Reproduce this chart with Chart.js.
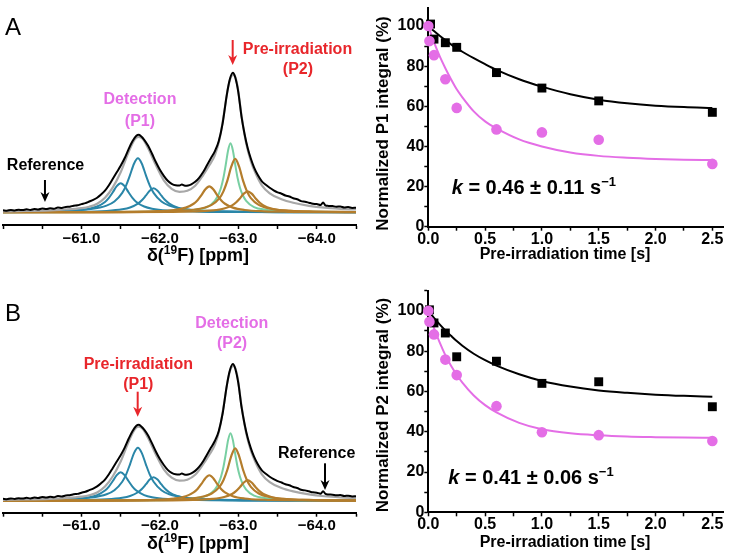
<!DOCTYPE html>
<html>
<head>
<meta charset="utf-8">
<script src="https://cdn.jsdelivr.net/npm/chart.js@4.4.1/dist/chart.umd.min.js"></script>
<style>
    body { margin: 0; background: #fff; overflow: hidden; }
    #wrap { position: relative; width: 730px; height: 556px; }
    canvas { position: absolute; }
</style>
</head>
<body>
<div id="wrap">
    <canvas id="specA" style="left:0;top:0" width="365" height="270"></canvas>
    <canvas id="kinA" style="left:365px;top:0" width="365" height="270"></canvas>
    <canvas id="specB" style="left:0;top:270px" width="365" height="286"></canvas>
    <canvas id="kinB" style="left:365px;top:270px" width="365" height="286"></canvas>
</div>

<script>
    // ---- 19F spectrum (same spectrum in A and B), intensity in arbitrary units ----
    const obsPpm = [-60.00, -60.05, -60.10, -60.15, -60.20, -60.25, -60.30, -60.35, -60.40, -60.45,
        -60.50, -60.55, -60.60, -60.65, -60.70, -60.75, -60.80, -60.85, -60.90, -60.95,
        -61.00, -61.05, -61.10, -61.15, -61.20, -61.25, -61.30, -61.35, -61.40, -61.45,
        -61.50, -61.55, -61.60, -61.65, -61.70, -61.73, -61.76, -61.80, -61.85, -61.90,
        -61.95, -62.00, -62.05, -62.10, -62.15, -62.20, -62.25, -62.28, -62.32, -62.36,
        -62.40, -62.45, -62.50, -62.55, -62.60, -62.65, -62.70, -62.75, -62.80, -62.85,
        -62.89, -62.93, -62.96, -63.00, -63.04, -63.08, -63.12, -63.16, -63.20, -63.25,
        -63.30, -63.35, -63.40, -63.45, -63.50, -63.55, -63.60, -63.65, -63.70, -63.75,
        -63.80, -63.85, -63.90, -63.95, -64.00, -64.05, -64.08, -64.11, -64.15, -64.20,
        -64.25, -64.30, -64.35, -64.40, -64.45, -64.50];
    const obsInt = [2.0, 1.6, 2.4, 1.9, 2.6, 2.2, 3.0, 2.4, 3.2, 2.8,
        3.8, 3.2, 4.0, 3.6, 4.8, 4.4, 5.4, 5.6, 6.6, 7.0,
        8.2, 9.2, 10.8, 12.4, 14.6, 17.8, 21.6, 27.0, 33.5, 40.0,
        46.5, 54.0, 63.0, 71.0, 76.5, 77.5, 76.0, 72.5, 66.5, 58.5,
        50.0, 42.5, 36.5, 31.5, 28.5, 27.0, 26.8, 27.8, 26.6, 26.8,
        28.0, 30.5, 34.5, 40.0, 47.0, 54.0, 61.0, 71.0, 89.0, 116.0,
        132.5, 139.5, 135.0, 120.0, 96.0, 78.0, 64.0, 53.5, 45.0, 37.0,
        31.0, 27.5, 24.5, 22.0, 20.0, 18.6, 16.8, 15.8, 14.0, 13.0,
        11.2, 10.6, 9.6, 8.6, 8.2, 7.2, 9.8, 7.0, 6.4, 6.2,
        5.6, 5.8, 4.8, 5.2, 4.4, 4.6];

    const sumPpm = [-60.0, -60.3, -60.6, -60.8, -61.0, -61.1, -61.2, -61.3, -61.4, -61.5,
        -61.6, -61.68, -61.73, -61.78, -61.85, -61.95, -62.05, -62.15, -62.25, -62.35,
        -62.45, -62.55, -62.63, -62.7, -62.76, -62.82, -62.87, -62.92, -62.95, -62.99,
        -63.04, -63.1, -63.16, -63.22, -63.3, -63.4, -63.55, -63.7, -63.9, -64.1,
        -64.3, -64.5];
    const sumInt = [0.9, 1.3, 2.0, 2.8, 4.2, 5.6, 8.5, 14.5, 25, 40,
        60, 73, 75.5, 73.5, 64, 47, 32, 23.5, 20.5, 21.5,
        26.5, 37, 47, 57, 73, 100, 125, 137, 137.5, 126,
        97, 69, 51, 39, 27, 19, 13, 9.5, 6.5, 4.6,
        3.5, 2.8];

    // P1 components (blue)
    const p1aPpm = [-60.0, -60.5, -60.9, -61.1, -61.2, -61.3, -61.35, -61.4, -61.45, -61.5,
        -61.55, -61.6, -61.65, -61.7, -61.8, -61.9, -62.1, -62.5, -63.5, -64.5];
    const p1aInt = [0.29, 0.64, 1.71, 3.58, 5.8, 10.4, 14.5, 20.1, 26.1, 29,
        26.1, 20.1, 14.5, 10.4, 5.8, 3.58, 1.71, 0.64, 0.16, 0.08];
    const p1bPpm = [-60.0, -60.72, -61.12, -61.32, -61.42, -61.52, -61.57, -61.62, -61.67, -61.72,
        -61.77, -61.82, -61.87, -61.92, -62.02, -62.12, -62.32, -62.72, -63.72, -64.5];
    const p1bInt = [0.41, 1.19, 3.18, 6.66, 10.8, 19.4, 27, 37.4, 48.6, 54,
        48.6, 37.4, 27, 19.4, 10.8, 6.66, 3.18, 1.19, 0.3, 0.16];
    const p1cPpm = [-60.0, -60.92, -61.32, -61.52, -61.62, -61.72, -61.77, -61.82, -61.87, -61.92,
        -61.97, -62.02, -62.07, -62.12, -62.22, -62.32, -62.52, -62.92, -63.92, -64.5];
    const p1cInt = [0.15, 0.53, 1.41, 2.96, 4.8, 8.64, 12, 16.6, 21.6, 24,
        21.6, 16.6, 12, 8.64, 4.8, 2.96, 1.41, 0.53, 0.13, 0.08];

    // P2 components (green, brown)
    const p2gPpm = [-60.0, -61.3, -61.9, -62.2, -62.45, -62.6, -62.7, -62.75, -62.78, -62.81,
        -62.84, -62.87, -62.9, -62.93, -62.96, -62.99, -63.02, -63.05, -63.1, -63.2,
        -63.35, -63.6, -63.9, -64.5];
    const p2gInt = [0.07, 0.22, 0.56, 1.13, 2.65, 5.2, 11.4, 18.3, 24.8, 34.5,
        47.8, 62.1, 69, 62.1, 47.8, 34.5, 24.8, 18.3, 11.4, 5.2,
        2.65, 1.13, 0.56, 0.22];
    const p2aPpm = [-60.0, -61.0, -61.63, -61.93, -62.18, -62.33, -62.43, -62.48, -62.53, -62.58,
        -62.63, -62.68, -62.73, -62.78, -62.83, -62.93, -63.08, -63.33, -63.63, -64.5];
    const p2aInt = [0.07, 0.19, 0.5, 1.0, 2.29, 4.65, 8.55, 12.1, 17.2, 23.06,
        26, 23.06, 17.2, 12.1, 8.55, 4.65, 2.29, 1.0, 0.5, 0.145];
    const p2bPpm = [-60.0, -60.96, -61.96, -62.26, -62.51, -62.66, -62.76, -62.81, -62.86, -62.91,
        -62.96, -63.01, -63.06, -63.11, -63.16, -63.26, -63.41, -63.66, -63.96, -64.5];
    const p2bInt = [0.09, 0.19, 0.76, 1.53, 3.55, 7.38, 14.15, 20.9, 31.6, 45.6,
        53.5, 45.6, 31.6, 20.9, 14.15, 7.38, 3.55, 1.53, 0.76, 0.32];
    const p2cPpm = [-60.0, -61.12, -62.12, -62.42, -62.67, -62.82, -62.92, -62.97, -63.02, -63.07,
        -63.12, -63.17, -63.22, -63.27, -63.32, -63.42, -63.57, -63.82, -64.12, -64.5];
    const p2cInt = [0.04, 0.1, 0.4, 0.81, 1.85, 3.76, 6.9, 9.78, 13.9, 18.62,
        21, 18.62, 13.9, 9.78, 6.9, 3.76, 1.85, 0.81, 0.4, 0.21];

    // ---- saturation transfer kinetics ----
    const pinkTimesA = [0, 0.01, 0.05, 0.15, 0.25, 0.6, 1.0, 1.5, 2.5];
    const pinkValsA = [100, 92.5, 85.5, 73.5, 59.2, 48.5, 47.0, 43.3, 31.3];
    const blackTimesA = [0.02, 0.05, 0.15, 0.25, 0.6, 1.0, 1.5, 2.5];
    const blackValsA = [101, 93.5, 91.7, 89.4, 76.8, 69.1, 62.7, 57.0];

    const pinkTimesB = [0, 0.01, 0.05, 0.15, 0.25, 0.6, 1.0, 1.5, 2.5];
    const pinkValsB = [100, 94.6, 88.3, 75.8, 68.1, 52.7, 39.7, 38.3, 35.4];
    const blackTimesB = [0.01, 0.05, 0.15, 0.25, 0.6, 1.0, 1.5, 2.5];
    const blackValsB = [100.5, 94.0, 89.0, 77.2, 75.0, 64.0, 64.8, 52.4];

    const fitTimes = [0, 0.05, 0.1, 0.15, 0.2, 0.25, 0.3, 0.4, 0.5, 0.6, 0.8, 1.0, 1.25, 1.5, 1.75, 2.0, 2.25, 2.5];
    const blackFitA = [100, 97.5, 95.2, 93, 90.9, 89, 87.2, 84, 81, 78.2, 73.5, 69.8, 66, 63.3, 61.5, 60.3, 59.6, 59.2];
    const pinkFitA = [100, 92, 85, 79, 73.5, 68.5, 64.5, 57.5, 52.5, 49, 43.5, 40, 37, 35.3, 34.4, 33.8, 33.4, 33.2];
    const blackFitB = [100, 96.5, 93.3, 90.3, 87.6, 85, 82.7, 78.7, 75.5, 72.8, 68.5, 65.2, 62.4, 60.5, 59.3, 58.4, 57.8, 57.4];
    const pinkFitB = [100, 91.5, 84.3, 78, 72.7, 68.3, 64.4, 58, 53.2, 49.6, 44.4, 41.2, 39.2, 38.2, 37.6, 37.3, 37.1, 37];

    const FONT = '"Liberation Sans", Arial, Helvetica, sans-serif';
    const PINK = '#e46ee6';
    const RED = '#e8262b';
    const BLUE = '#2a86a8';
    const GREEN = '#78cfa2';
    const BROWN = '#b47d2c';

    function pts(xs, ys) {
        return xs.map((x, i) => ({ x: x, y: ys[i] }));
    }

    function trace(xs, ys, color, width, order) {
        return {
            data: pts(xs, ys), borderColor: color, borderWidth: width, pointRadius: 0,
            fill: false, cubicInterpolationMode: 'monotone', order: order
        };
    }

    // text with parts in different fonts (superscripts)
    function richText(ctx, parts, x, y, align) {
        let w = 0;
        for (const p of parts) { ctx.font = p.font; w += ctx.measureText(p.t).width; }
        let cx = align === 'center' ? x - w / 2 : x;
        ctx.textAlign = 'left';
        ctx.textBaseline = 'alphabetic';
        for (const p of parts) {
            ctx.font = p.font;
            ctx.fillText(p.t, cx, y + (p.dy || 0));
            cx += ctx.measureText(p.t).width;
        }
    }

    function label(ctx, text, x, y, color, font) {
        ctx.fillStyle = color;
        ctx.font = font;
        ctx.textAlign = 'center';
        ctx.textBaseline = 'middle';
        ctx.fillText(text, x, y);
    }

    function arrow(ctx, x, y1, y2, color) {
        ctx.strokeStyle = color;
        ctx.fillStyle = color;
        ctx.lineWidth = 2;
        ctx.beginPath();
        ctx.moveTo(x, y1);
        ctx.lineTo(x, y2 - 6);
        ctx.stroke();
        ctx.beginPath();
        ctx.moveTo(x - 4.5, y2 - 10);
        ctx.lineTo(x, y2);
        ctx.lineTo(x + 4.5, y2 - 10);
        ctx.lineTo(x, y2 - 7);
        ctx.closePath();
        ctx.fill();
    }

    function overlay(drawFn) {
        return { id: 'overlay', afterDraw(chart) { const ctx = chart.ctx; ctx.save(); drawFn(chart, ctx); ctx.restore(); } };
    }

    const bold = (s) => `bold ${s}px ${FONT}`;

    function spectrumChart(id, xHeight, yMin, yMax, notes, letter, letterY, titleY) {
        return new Chart(document.getElementById(id), {
            type: 'line',
            data: {
                datasets: [
                    trace(obsPpm, obsInt, '#000', 2, 0),
                    trace(sumPpm, sumInt, '#a8a8a8', 2.2, 1),
                    trace(p2aPpm, p2aInt, BROWN, 2.2, 2),
                    trace(p2bPpm, p2bInt, BROWN, 2.2, 2),
                    trace(p2cPpm, p2cInt, BROWN, 2.2, 2),
                    trace(p2gPpm, p2gInt, GREEN, 2, 3),
                    trace(p1aPpm, p1aInt, BLUE, 2, 4),
                    trace(p1bPpm, p1bInt, BLUE, 2, 4),
                    trace(p1cPpm, p1cInt, BLUE, 2, 4)
                ]
            },
            options: {
                responsive: false,
                animation: false,
                layout: { padding: { left: 3, right: 9, top: 0, bottom: 0 } },
                plugins: { legend: { display: false }, tooltip: { enabled: false } },
                scales: {
                    x: {
                        type: 'linear', reverse: true, min: -64.5, max: -60.0,
                        afterFit: (s) => { s.height = xHeight; },
                        border: { color: '#000', width: 2 },
                        grid: { drawOnChartArea: false, drawTicks: true, tickLength: 4, tickWidth: 1.5, tickColor: '#000' },
                        ticks: {
                            stepSize: 0.5, autoSkip: false, maxRotation: 0, padding: 2, color: '#000',
                            font: { family: FONT, size: 15, weight: 'bold', lineHeight: 1 },
                            callback: (v) => (Math.abs(v % 1) < 1e-6 && v < -60.5) ? '\u2212' + Math.abs(v).toFixed(1) : ''
                        }
                    },
                    y: { display: false, min: yMin, max: yMax }
                }
            },
            plugins: [overlay((chart, ctx) => {
                const xs = chart.scales.x, ys = chart.scales.y;
                for (const n of notes) {
                    const px = xs.getPixelForValue(n.ppm);
                    if (n.arrow) arrow(ctx, px, ys.getPixelForValue(n.from), ys.getPixelForValue(n.to), n.color);
                    else label(ctx, n.text, px, ys.getPixelForValue(n.at), n.color, bold(16));
                }
                ctx.fillStyle = '#000';
                ctx.font = `24px ${FONT}`;
                ctx.textAlign = 'left';
                ctx.textBaseline = 'alphabetic';
                ctx.fillText(letter, 5, letterY);
                richText(ctx, [
                    { t: '\u03b4(', font: bold(18) },
                    { t: '19', font: bold(12), dy: -7 },
                    { t: 'F) [ppm]', font: bold(18) }
                ], 198, titleY, 'center');
            })]
        });
    }

    function kineticsChart(id, topPad, xHeight, yMax, data, yTitle, yTitleY, xTitleY, kText, kX, kY) {
        return new Chart(document.getElementById(id), {
            type: 'scatter',
            data: {
                datasets: [
                    { data: pts(data.pinkT, data.pinkV), pointStyle: 'circle', pointRadius: 5.3, backgroundColor: PINK, borderWidth: 0, clip: false, order: 0 },
                    { data: pts(data.blackT, data.blackV), pointStyle: 'rect', pointRadius: 6.3, backgroundColor: '#000', borderWidth: 0, clip: false, order: 1 },
                    { data: pts(fitTimes, data.pinkFit), showLine: true, borderColor: PINK, borderWidth: 2, pointRadius: 0, cubicInterpolationMode: 'monotone', order: 2 },
                    { data: pts(fitTimes, data.blackFit), showLine: true, borderColor: '#000', borderWidth: 2, pointRadius: 0, cubicInterpolationMode: 'monotone', order: 3 }
                ]
            },
            options: {
                responsive: false,
                animation: false,
                layout: { padding: { left: 0, right: 5, top: topPad, bottom: 0 } },
                plugins: { legend: { display: false }, tooltip: { enabled: false } },
                scales: {
                    x: {
                        type: 'linear', min: 0, max: 2.6,
                        afterFit: (s) => { s.height = xHeight; },
                        border: { color: '#000', width: 2 },
                        grid: { drawOnChartArea: false, drawTicks: true, tickLength: 4, tickWidth: 1.5, tickColor: '#000' },
                        ticks: {
                            stepSize: 0.25, includeBounds: false, autoSkip: false, maxRotation: 0, padding: 0.5, color: '#000',
                            font: { family: FONT, size: 16, weight: 'bold', lineHeight: 1 },
                            callback: (v) => Math.abs(v * 2 - Math.round(v * 2)) < 1e-6 ? v.toFixed(1) : ''
                        }
                    },
                    y: {
                        min: 0, max: yMax,
                        afterFit: (s) => { s.width = 63.3; },
                        border: { color: '#000', width: 2 },
                        grid: { drawOnChartArea: false, drawTicks: true, tickLength: 4, tickWidth: 1.5, tickColor: '#000' },
                        ticks: {
                            stepSize: 10, includeBounds: false, autoSkip: false, padding: 0, color: '#000',
                            font: { family: FONT, size: 16, weight: 'bold', lineHeight: 1 },
                            callback: (v) => v % 20 === 0 ? String(v) : ''
                        }
                    }
                }
            },
            plugins: [overlay((chart, ctx) => {
                ctx.fillStyle = '#000';
                ctx.save();
                ctx.translate(18.3, yTitleY);
                ctx.rotate(-Math.PI / 2);
                label(ctx, yTitle, 0, 0, '#000', bold(17));
                ctx.restore();
                label(ctx, 'Pre-irradiation time [s]', 200, xTitleY, '#000', bold(16));
                ctx.fillStyle = '#000';
                richText(ctx, [
                    { t: 'k', font: `italic bold 20px ${FONT}` },
                    { t: ' = ' + kText + ' s', font: bold(20) },
                    { t: '\u22121', font: bold(13), dy: -8 }
                ], kX, kY, 'left');
            })]
        });
    }

    spectrumChart('specA', 45, -12.7, 212.3, [
        { text: 'Pre-irradiation', ppm: -63.754, at: 162.3, color: RED },
        { text: '(P2)', ppm: -63.76, at: 142.3, color: RED },
        { arrow: true, ppm: -62.928, from: 172.3, to: 147.3, color: RED },
        { text: 'Detection', ppm: -61.746, at: 112.3, color: PINK },
        { text: '(P1)', ppm: -61.746, at: 90.3, color: PINK },
        { text: 'Reference', ppm: -60.542, at: 46.3, color: '#000' },
        { arrow: true, ppm: -60.535, from: 32.3, to: 10.3, color: '#000' }
    ], 'A', 35, 261);

    spectrumChart('specB', 43.3, -12.2, 235.5, [
        { text: 'Detection', ppm: -62.916, at: 181.1, color: PINK },
        { text: '(P2)', ppm: -62.92, at: 159.9, color: PINK },
        { text: 'Pre-irradiation', ppm: -61.725, at: 139.2, color: RED },
        { text: '(P1)', ppm: -61.725, at: 118.1, color: RED },
        { arrow: true, ppm: -61.717, from: 111.3, to: 85.8, color: RED },
        { text: 'Reference', ppm: -63.999, at: 48.4, color: '#000' },
        { arrow: true, ppm: -64.105, from: 38.2, to: 11.0, color: '#000' }
    ], 'B', 51, 279);

    kineticsChart('kinA', 4, 43.3, 109,
        { pinkT: pinkTimesA, pinkV: pinkValsA, blackT: blackTimesA, blackV: blackValsA, pinkFit: pinkFitA, blackFit: blackFitA },
        'Normalized P1 integral (%)', 123.5, 255, '0.46 \u00b1 0.11', 86.7, 193.7);

    kineticsChart('kinB', 20.7, 43.7, 110,
        { pinkT: pinkTimesB, pinkV: pinkValsB, blackT: blackTimesB, blackV: blackValsB, pinkFit: pinkFitB, blackFit: blackFitB },
        'Normalized P2 integral (%)', 135, 272.5, '0.41 \u00b1 0.06', 83.3, 213.7);
</script>
</body>
</html>
